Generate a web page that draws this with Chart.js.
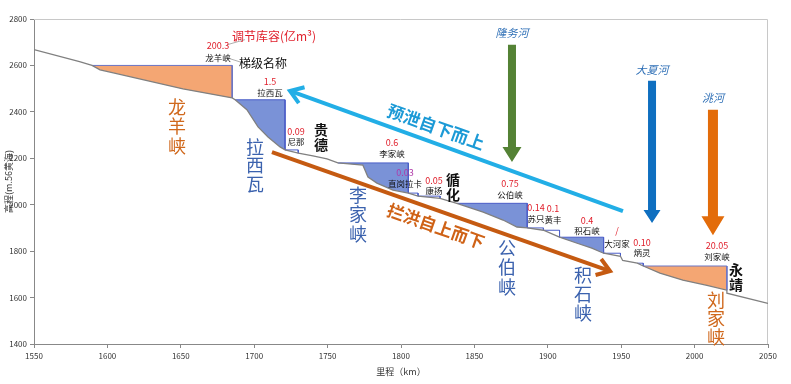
<!DOCTYPE html>
<html>
<head>
<meta charset="utf-8">
<script src="https://cdn.jsdelivr.net/npm/chart.js@4.4.1/dist/chart.umd.min.js"></script>
<style>
  html, body { margin: 0; padding: 0; background: #fff; }
</style>
</head>
<body>
<canvas id="c" width="791" height="384"></canvas>
<script>
// river bed profile (km, elevation m)
const profileKm = [1550, 1581, 1589.5, 1595, 1604, 1651.5, 1685, 1687, 1695, 1702.6, 1709.4, 1717.6, 1721,
  1730, 1740, 1749.6, 1757, 1774, 1777.5, 1783.6, 1794.5, 1805, 1811.6, 1826.6, 1838, 1856, 1869.5, 1879,
  1886, 1897, 1908, 1920, 1930, 1938, 1949.5, 1951, 1961, 1965, 1976.4, 1992, 2008.4, 2022, 2022, 2050];
const profileElev = [2668, 2616, 2600, 2581, 2568, 2499, 2460, 2452, 2409, 2335, 2292, 2249, 2236,
  2222, 2210, 2197, 2180, 2171, 2119, 2093, 2063, 2050, 2037, 2027, 2006, 1968, 1934, 1904,
  1900, 1890, 1860, 1834, 1813, 1791, 1778, 1760, 1748, 1736, 1705, 1675, 1653, 1632, 1619, 1575];

// cascade reservoirs
const stationNames = ['龙羊峡', '拉西瓦', '尼那', '李家峡', '直岗拉卡', '康扬', '公伯峡', '苏只', '黄丰', '积石峡', '大河家', '炳灵', '刘家峡'];
const storage = ['200.3', '1.5', '0.09', '0.6', '0.03', '0.05', '0.75', '0.14', '0.1', '0.4', '/', '0.10', '20.05'];
const normalLevel = [2600, 2452, 2236, 2180, 2050, 2037, 2006, 1900, 1890, 1860, 1791, 1748, 1736];
const headKm = [1589.5, 1687, 1721, 1757, 1805, 1811.6, 1838, 1886, 1897, 1908, 1938, 1961, 1965];
const damKm = [1685, 1721, 1730, 1805, 1811.6, 1826.6, 1886, 1897, 1908, 1938, 1949.5, 1965, 2022];
const kind = ['orange', 'blue', 'small', 'blue', 'small', 'small', 'blue', 'small', 'small', 'blue', 'small', 'small', 'orange'];

const FONT = '"Noto Sans CJK SC", "Noto Sans", sans-serif';
const fillColor = { orange: '#f4a673', blue: '#7a92d7' };
const edgeColor = '#4b5ec8';

function reach(i) {
  const pts = [];
  for (let j = 0; j < profileKm.length; j++) {
    const k = profileKm[j];
    if (k >= headKm[i] && k <= damKm[i]) pts.push({ x: k, y: profileElev[j] });
    if (k === damKm[i]) break;
  }
  return pts;
}

const datasets = [{
  data: profileKm.map((k, i) => ({ x: k, y: profileElev[i] })),
  borderColor: '#808080', borderWidth: 1.3, fill: false, order: 1
}];

stationNames.forEach((name, i) => {
  const pts = reach(i);
  const bed = pts[pts.length - 1].y;
  if (kind[i] !== 'small') {
    datasets.push({ data: pts, fill: { value: normalLevel[i] }, backgroundColor: fillColor[kind[i]],
      borderWidth: 0, order: 3 });
  }
  datasets.push({
    data: [{ x: headKm[i], y: normalLevel[i] }, { x: damKm[i], y: normalLevel[i] }, { x: damKm[i], y: bed }],
    borderColor: kind[i] === 'orange' ? '#6a74c4' : edgeColor, borderWidth: 1, fill: false, order: 2
  });
});

// annotation placement (km, elevation)
const labelPos = [
  [1675.3, 2685, 2633], [1710.8, 2529, 2482], [1728.5, 2315, 2271], [1793.9, 2267, 2220],
  [1802.7, 2138, 2090], [1822.5, 2103, 2060], [1874.3, 2090, 2043], [1892, 1987, 1940],
  [1903.5, 1983, 1935], [1926.7, 1931, 1888], [1947.1, 1888, 1832], [1964.2, 1836, 1793],
  [2015.3, 1823, 1776]
];
const bigLabels = [
  { text: '龙羊峡', km: 1647.4, el: 2421, step: 19.5, color: '#d0681c' },
  { text: '拉西瓦', km: 1700.5, el: 2249, step: 18.5, color: '#3b62ae' },
  { text: '李家峡', km: 1770.7, el: 2042, step: 19.5, color: '#3b62ae' },
  { text: '公伯峡', km: 1872.2, el: 1813, step: 19.5, color: '#3b62ae' },
  { text: '积石峡', km: 1924, el: 1697, step: 19, color: '#3b62ae' },
  { text: '刘家峡', km: 2014.6, el: 1589, step: 18.5, color: '#d0681c' }
];
const towns = [
  { text: '贵德', km: 1745.5, el: 2322 },
  { text: '循化', km: 1835.4, el: 2106 },
  { text: '永靖', km: 2028.2, el: 1718 }
];
const tributaries = [
  { text: '隆务河', km: 1875.6, top: 2689, tip: 2184, lab: 2741, color: '#548235', shaft: 8, hw: 19, hh: 15 },
  { text: '大夏河', km: 1971, top: 2534, tip: 1921, lab: 2581, color: '#0f6fc0', shaft: 8, hw: 17, hh: 13 },
  { text: '洮河', km: 2012.5, top: 2409, tip: 1869, lab: 2460, color: '#e36c0a', shaft: 10, hw: 23, hh: 19 }
];
const flowArrows = [
  { text: '预泄自下而上', from: [1951.2, 1972], to: [1724.4, 2490], textAt: [1823.8, 2335], line: '#22aee6', color: '#1c9ad6' },
  { text: '拦洪自上而下', from: [1712.1, 2227], to: [1942.4, 1714], textAt: [1823.8, 1908], line: '#c55a11', color: '#cf6216' }
];

const frame = {
  id: 'frame',
  beforeDatasetsDraw(chart) {
    const { ctx, chartArea: a } = chart;
    ctx.save();
    ctx.strokeStyle = '#c8c8c8';
    ctx.lineWidth = 1;
    ctx.beginPath();
    ctx.moveTo(a.left, a.top + 0.5);
    ctx.lineTo(a.right - 0.5, a.top + 0.5);
    ctx.lineTo(a.right - 0.5, a.bottom);
    ctx.stroke();
    ctx.restore();
  }
};

const notes = {
  id: 'notes',
  afterDatasetsDraw(chart) {
    const { ctx, scales: { x, y } } = chart;
    const X = v => x.getPixelForValue(v);
    const Y = v => y.getPixelForValue(v);
    ctx.save();
    ctx.textAlign = 'center';
    ctx.textBaseline = 'middle';

    // legend-like captions with leader lines
    ctx.strokeStyle = '#999';
    ctx.lineWidth = 0.8;
    ctx.beginPath();
    ctx.moveTo(X(1681.5), Y(2689)); ctx.lineTo(X(1693.7), Y(2711));
    ctx.moveTo(X(1681.5), Y(2633)); ctx.lineTo(X(1692.4), Y(2611));
    ctx.stroke();
    ctx.fillStyle = '#e0202c';
    ctx.font = '12px ' + FONT;
    ctx.fillText('调节库容(亿m³)', X(1713.5), Y(2724));
    ctx.fillStyle = '#111';
    ctx.fillText('梯级名称', X(1706), Y(2607));

    // per-station capacity and name
    stationNames.forEach((name, i) => {
      const [km, capEl, nameEl] = labelPos[i];
      ctx.font = '9px ' + FONT;
      ctx.fillStyle = name === '直岗拉卡' ? '#b03aa8' : '#e0202c';
      ctx.fillText(storage[i], X(km), Y(capEl));
      ctx.font = '8.5px ' + FONT;
      ctx.fillStyle = '#111';
      ctx.fillText(name, X(km), Y(nameEl));
    });

    // vertical texts
    const vertical = (text, px, py, step) => {
      [...text].forEach((ch, k) => ctx.fillText(ch, px, py + k * step));
    };
    ctx.font = '18px ' + FONT;
    bigLabels.forEach(b => { ctx.fillStyle = b.color; vertical(b.text, X(b.km), Y(b.el), b.step); });
    ctx.font = 'bold 14px ' + FONT;
    ctx.fillStyle = '#111';
    towns.forEach(t => vertical(t.text, X(t.km), Y(t.el), 15));

    // tributary block arrows
    tributaries.forEach(t => {
      const px = X(t.km), top = Y(t.top), tip = Y(t.tip), s = t.shaft / 2;
      ctx.fillStyle = t.color;
      ctx.beginPath();
      ctx.moveTo(px - s, top); ctx.lineTo(px + s, top);
      ctx.lineTo(px + s, tip - t.hh); ctx.lineTo(px + t.hw / 2, tip - t.hh);
      ctx.lineTo(px, tip); ctx.lineTo(px - t.hw / 2, tip - t.hh);
      ctx.lineTo(px - s, tip - t.hh); ctx.closePath();
      ctx.fill();
      ctx.font = 'italic 11px ' + FONT;
      ctx.fillStyle = '#2e6fb6';
      ctx.fillText(t.text, px, Y(t.lab));
    });

    // flood-control arrows
    flowArrows.forEach(f => {
      const x0 = X(f.from[0]), y0 = Y(f.from[1]), x1 = X(f.to[0]), y1 = Y(f.to[1]);
      const ang = Math.atan2(y1 - y0, x1 - x0);
      ctx.strokeStyle = f.line;
      ctx.lineWidth = 4;
      ctx.lineJoin = 'miter';
      ctx.beginPath();
      ctx.moveTo(x0, y0); ctx.lineTo(x1, y1);
      ctx.stroke();
      ctx.beginPath();
      ctx.moveTo(x1 + 15 * Math.cos(ang + Math.PI - 0.6), y1 + 15 * Math.sin(ang + Math.PI - 0.6));
      ctx.lineTo(x1, y1);
      ctx.lineTo(x1 + 15 * Math.cos(ang + Math.PI + 0.6), y1 + 15 * Math.sin(ang + Math.PI + 0.6));
      ctx.stroke();
      const rot = Math.atan2(Math.abs(y1 - y0), Math.abs(x1 - x0));
      ctx.save();
      ctx.translate(X(f.textAt[0]), Y(f.textAt[1]));
      ctx.rotate(rot);
      ctx.font = 'bold 17px ' + FONT;
      ctx.fillStyle = f.color;
      ctx.fillText(f.text, 0, 0);
      ctx.restore();
    });
    ctx.restore();
  }
};

new Chart(document.getElementById('c'), {
  type: 'line',
  data: { datasets },
  options: {
    responsive: false,
    animation: false,
    layout: { padding: { top: 19, right: 23, left: 0, bottom: 0 } },
    elements: { point: { radius: 0 }, line: { tension: 0 } },
    plugins: { legend: { display: false }, tooltip: { enabled: false } },
    scales: {
      x: {
        type: 'linear', min: 1550, max: 2050,
        ticks: { stepSize: 50, padding: 3, maxRotation: 0, color: '#333',
          font: { size: 8, family: '"Liberation Sans Narrow", ' + FONT }, callback: v => String(v) },
        grid: { drawOnChartArea: false, tickLength: 4, color: '#888' },
        border: { color: '#888' },
        title: { display: true, text: '里程（km）', color: '#333', font: { size: 9, family: FONT },
          padding: { top: 2, bottom: 7 } },
        afterFit: s => { s.height = 40; }
      },
      y: {
        min: 1400, max: 2800,
        ticks: { stepSize: 200, padding: 3, color: '#333',
          font: { size: 8, family: '"Liberation Sans Narrow", ' + FONT }, callback: v => String(v) },
        grid: { drawOnChartArea: false, tickLength: 4, color: '#888' },
        border: { color: '#888' },
        title: { display: true, text: '高程(m.56黄海)', color: '#333', font: { size: 9, family: FONT },
          padding: { top: 3, bottom: 0 } },
        afterFit: s => { s.width = 34; }
      }
    }
  },
  plugins: [frame, notes]
});
</script>
</body>
</html>
